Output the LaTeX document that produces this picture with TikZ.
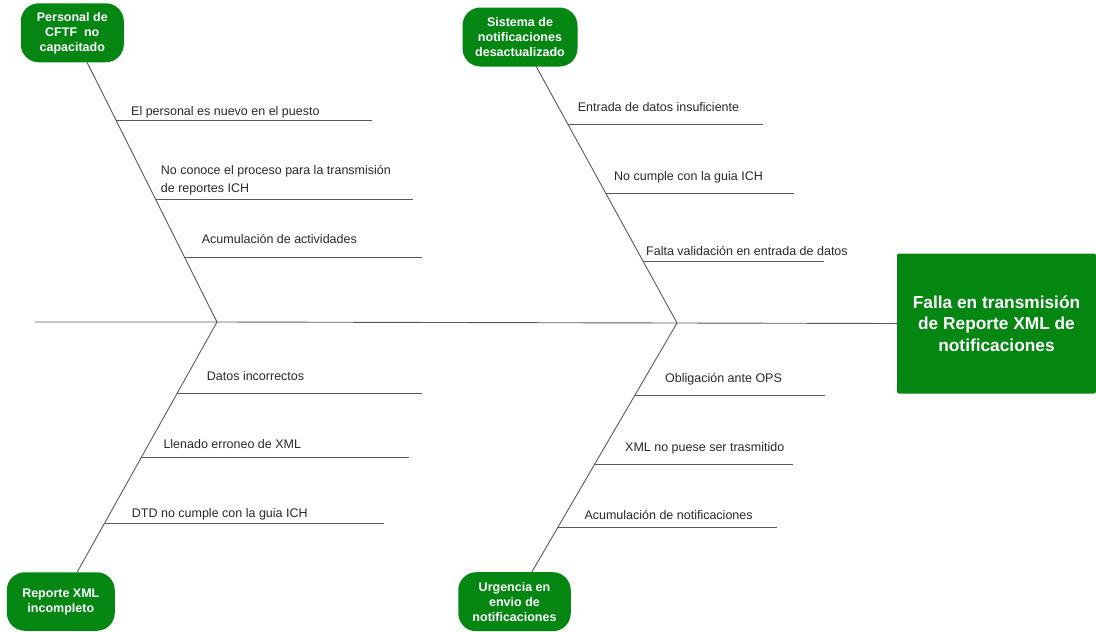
\documentclass[tikz,border=0pt]{standalone}
\usepackage{fontspec}
\setmainfont{Liberation Sans}
\definecolor{fishgreen}{RGB}{4,135,18}
\definecolor{boneline}{RGB}{90,90,90}
\definecolor{labeltext}{RGB}{40,40,40}
\tikzset{
  cause/.style={fill=fishgreen, rounded corners=18pt, text=white,
    font=\fontsize{12.5}{15}\selectfont\bfseries, align=center, inner sep=0pt},
  effect/.style={fill=fishgreen, rounded corners=2pt, text=white,
    font=\fontsize{17.3}{21.7}\selectfont\bfseries, align=center, inner sep=0pt,
    minimum width=199pt, minimum height=140pt},
  bone/.style={draw=boneline, line width=0.9pt},
  subbone/.style={draw=boneline, line width=0.8pt},
  lbl/.style={text=labeltext, font=\fontsize{12.5}{17.4}\selectfont,
    anchor=base west, inner sep=0pt, align=left}
}
\begin{document}
\begin{tikzpicture}[x=1pt,y=-1pt]
\useasboundingbox (0,0) rectangle (1096,632);

% cause nodes
\node[cause, minimum width=103pt, minimum height=59pt] (c1) at (72.3,32.8) {Personal de\\CFTF\ \ no\\capacitado};
\node[cause, minimum width=115pt, minimum height=59pt] (c2) at (520,37) {Sistema de\\notificaciones\\desactualizado};
\node[cause, minimum width=108pt, minimum height=58.5pt] (c3) at (60.8,601.5) {Reporte XML\\incompleto};
\node[cause, minimum width=112.5pt, minimum height=59pt] (c4) at (514.5,601.7) {Urgencia en\\envio de\\notificaciones};
% effect
\node[effect] (e) at (996.5,323.5) {Falla en transmisión\\de Reporte XML de\\notificaciones};

% spine
\coordinate (tail) at (35,322);
\coordinate (j1) at (217,322);
\coordinate (j2) at (677,323);
\draw[bone] (tail) -- (j1) -- (j2) -- (e.west);

% main bones
\draw[bone] (j1) -- (c1);
\draw[bone] (j1) -- (c3);
\draw[bone] (j2) -- (c2);
\draw[bone] (j2) -- (c4);

% sub-bones, top-left
\coordinate (a1s) at (115.9,120.5); \coordinate (a1e) at (371.7,120.5);
\coordinate (a2s) at (156.0,199.7); \coordinate (a2e) at (412.7,199.7);
\coordinate (a3s) at (184.5,257.3); \coordinate (a3e) at (421.7,257.3);
\draw[subbone] (a1s) -- (a1e);
\draw[subbone] (a2s) -- (a2e);
\draw[subbone] (a3s) -- (a3e);
\node[lbl] (la1) at (131,115) {El personal es nuevo en el puesto};
\node[lbl] (la2) at (160.7,192) {No conoce el proceso para la transmisión\\de reportes ICH};
\node[lbl] (la3) at (201.7,243.5) {Acumulación de actividades};

% sub-bones, top-middle
\coordinate (b1s) at (567.8,124); \coordinate (b1e) at (762.7,124);
\coordinate (b2s) at (605.8,193.3); \coordinate (b2e) at (794,193.3);
\coordinate (b3s) at (643,261); \coordinate (b3e) at (824,261);
\draw[subbone] (b1s) -- (b1e);
\draw[subbone] (b2s) -- (b2e);
\draw[subbone] (b3s) -- (b3e);
\node[lbl] (lb1) at (577.7,111.7) {Entrada de datos insuficiente};
\node[lbl] (lb2) at (614,180.7) {No cumple con la guia ICH};
\node[lbl] (lb3) at (646,255.7) {Falta validación en entrada de datos};

% sub-bones, bottom-left
\coordinate (c1s) at (176.9,393.7); \coordinate (c1e) at (421.7,393.7);
\coordinate (c2s) at (141.6,457); \coordinate (c2e) at (409.3,457);
\coordinate (c3s) at (104.5,523.3); \coordinate (c3e) at (384,523.3);
\draw[subbone] (c1s) -- (c1e);
\draw[subbone] (c2s) -- (c2e);
\draw[subbone] (c3s) -- (c3e);
\node[lbl] (lc1) at (206.7,380) {Datos incorrectos};
\node[lbl] (lc2) at (163.3,448.5) {Llenado erroneo de XML};
\node[lbl] (lc3) at (131.7,517.3) {DTD no cumple con la guia ICH};

% sub-bones, bottom-middle
\coordinate (d1s) at (635,395); \coordinate (d1e) at (825,395);
\coordinate (d2s) at (594.6,464.3); \coordinate (d2e) at (793.3,464.3);
\coordinate (d3s) at (557.6,527.7); \coordinate (d3e) at (777.3,527.7);
\draw[subbone] (d1s) -- (d1e);
\draw[subbone] (d2s) -- (d2e);
\draw[subbone] (d3s) -- (d3e);
\node[lbl] (ld1) at (665,382.7) {Obligación ante OPS};
\node[lbl] (ld2) at (625,451.7) {XML no puese ser trasmitido};
\node[lbl] (ld3) at (584.3,519) {Acumulación de notificaciones};
\end{tikzpicture}
\end{document}
